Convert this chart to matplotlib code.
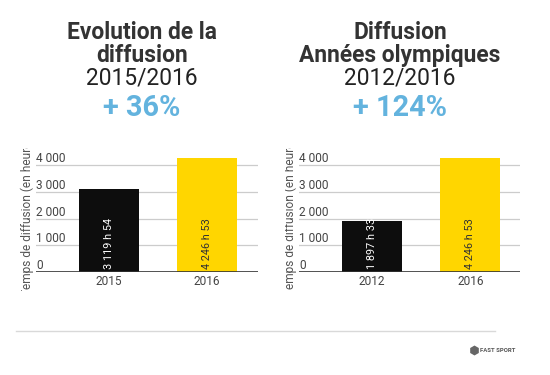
import matplotlib.pyplot as plt
from matplotlib.transforms import Bbox

plt.rcParams['font.family'] = ['Roboto', 'DejaVu Sans']

# data
left_years = ['2015', '2016']
left_hours = [3119.9, 4246.9]
left_labels = ['3 119 h 54', '4 246 h 53']
right_years = ['2012', '2016']
right_hours = [1897.55, 4246.9]
right_labels = ['1 897 h 33', '4 246 h 53']
y_ticks = [0, 1000, 2000, 3000, 4000]
y_tick_labels = ['0', '1 000', '2 000', '3 000', '4 000']
bar_colors = ['#0d0d0d', '#ffd600']
value_colors = ['white', '#333333']

W, H = 550, 375
fig = plt.figure(figsize=(W / 100, H / 100), dpi=100)


def px_ax(x0, x1, ybot, ytop):
    return fig.add_axes([x0 / W, 1 - ybot / H, (x1 - x0) / W, (ybot - ytop) / H])


def draw_panel(ax, years, hours, labels, xlim):
    ax.bar(range(len(years)), hours, width=0.61, color=bar_colors, zorder=2)
    ax.set_xlim(*xlim)
    ax.set_ylim(0, 4400)
    for v in y_ticks[1:]:
        ax.axhline(v, color='#cccccc', lw=0.9, zorder=1)
    ax.axhline(0, color='#333333', lw=1.2, zorder=3)
    for v, t in zip(y_ticks, y_tick_labels):
        ax.text(0.0, v + 110, t, transform=ax.get_yaxis_transform(),
                ha='left', va='baseline', fontsize=8.6, color='#444444')
    for i, (h, lab) in enumerate(zip(hours, labels)):
        ax.text(i, 120, lab, rotation=90, rotation_mode='anchor',
                ha='left', va='center', fontsize=7.8, color=value_colors[i], zorder=4)
    ax.set_xticks([])
    ax.set_yticks([])
    for s in ax.spines.values():
        s.set_visible(False)
    for i, y in enumerate(years):
        ax.text(i, -110, y, ha='center', va='top', fontsize=8.6, color='#444444')


ax1 = px_ax(36, 258, 272, 154.3)
draw_panel(ax1, left_years, left_hours, left_labels, (-0.745, 1.52))
ax2 = px_ax(299, 520, 272, 154.3)
draw_panel(ax2, right_years, right_hours, right_labels, (-0.745, 1.505))

# y-axis titles, clipped like the original
for xc, xmin in [(27, 0), (290, 285)]:
    t = fig.text(xc / W, 1 - 296 / H, 'Temps de diffusion (en heures)', rotation=90,
                 rotation_mode='anchor', ha='left', va='center', fontsize=8.6,
                 color='#555555', clip_on=True)
    t.set_clip_box(Bbox.from_extents(xmin, H - 291, xc + 20, H - 148))

# titles
dark = '#333333'
blue = '#63b3de'
for xc, l1, l2, yrs, pct in [(142, 'Evolution de la', 'diffusion', '2015/2016', '+ 36%'),
                            (400, 'Diffusion', 'Années olympiques', '2012/2016', '+ 124%')]:
    fig.text(xc / W, 1 - 39 / H, l1, ha='center', va='baseline', fontsize=16.4,
             fontweight='bold', color=dark)
    fig.text(xc / W, 1 - 62 / H, l2, ha='center', va='baseline', fontsize=16.4,
             fontweight='bold', color=dark)
    fig.text(xc / W, 1 - 85 / H, yrs, ha='center', va='baseline', fontsize=16.4,
             color='#222222')
    fig.text(xc / W, 1 - 116 / H, pct, ha='center', va='baseline', fontsize=20.8,
             fontweight='bold', color=blue)

# footer
fig.add_artist(plt.Line2D([16 / W, 495 / W], [1 - 331 / H, 1 - 331 / H],
                          color='#d9d9d9', lw=1))
fig.add_artist(plt.Line2D([474 / W], [1 - 350 / H], marker='h', markersize=6,
                          color='#666666', linestyle='none'))
fig.text(480 / W, 1 - 350 / H, 'FAST SPORT', ha='left', va='center', fontsize=4.3,
         fontweight='bold', color='#555555')

fig.savefig('out.png', dpi=100, facecolor='white')
